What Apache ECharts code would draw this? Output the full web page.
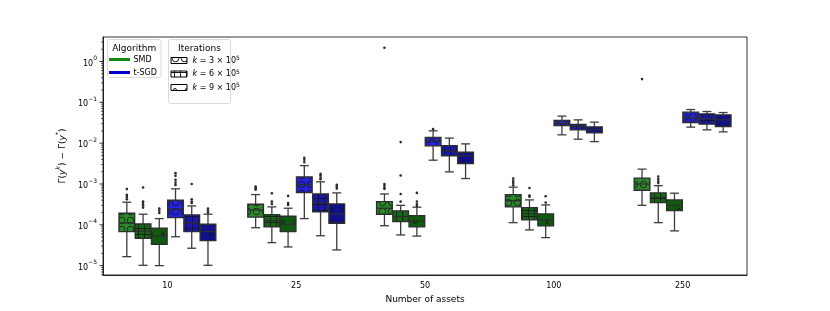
<!DOCTYPE html>
<html><head><meta charset="utf-8">
<script src="https://cdn.jsdelivr.net/npm/echarts@6/dist/echarts.min.js"></script>
<style>html,body{margin:0;padding:0;background:#fff}#c{width:830px;height:311px}</style>
</head><body><div id="c"></div>
<script>
const categories = ['10', '25', '50', '100', '250'];
// each entry: [lower whisker, Q1, median, Q3, upper whisker], one per category
const smd3 = [[1.66e-5, 6.8e-5, 1.11e-4, 1.92e-4, 3.58e-4], [8.5e-5, 1.54e-4, 2.32e-4, 3.2e-4, 5.5e-4], [9.5e-5, 1.82e-4, 2.55e-4, 3.7e-4, 5.7e-4], [1.13e-4, 2.75e-4, 3.9e-4, 5.5e-4, 8.35e-4], [3.0e-4, 7.05e-4, 1.0e-3, 1.39e-3, 2.31e-3]];
const smd6 = [[1.02e-5, 4.7e-5, 7.1e-5, 1.05e-4, 1.82e-4], [3.66e-5, 8.9e-5, 1.27e-4, 1.78e-4, 2.75e-4], [5.65e-5, 1.2e-4, 1.59e-4, 2.19e-4, 3.0e-4], [7.5e-5, 1.32e-4, 1.88e-4, 2.64e-4, 4.07e-4], [1.13e-4, 3.5e-4, 4.64e-4, 6.05e-4, 9.1e-4]];
const smd9 = [[1.0e-5, 3.35e-5, 5.3e-5, 8.3e-5, 1.42e-4], [2.87e-5, 6.8e-5, 1.03e-4, 1.62e-4, 2.55e-4], [5.3e-5, 8.9e-5, 1.25e-4, 1.68e-4, 2.7e-4], [4.85e-5, 9.5e-5, 1.32e-4, 1.85e-4, 3.07e-4], [7.1e-5, 2.23e-4, 2.96e-4, 4.07e-4, 5.95e-4]];
const sgd3 = [[5.1e-5, 1.5e-4, 2.4e-4, 4.0e-4, 7.6e-4], [1.42e-4, 6.2e-4, 9.7e-4, 1.49e-3, 2.82e-3], [3.83e-3, 8.6e-3, 1.14e-2, 1.37e-2, 2.0e-2], [1.6e-2, 2.7e-2, 3.06e-2, 3.58e-2, 4.59e-2], [2.47e-2, 3.2e-2, 4.24e-2, 5.75e-2, 6.66e-2]];
const sgd6 = [[2.67e-5, 6.8e-5, 1.13e-4, 1.75e-4, 2.9e-4], [5.4e-5, 2.07e-4, 3.44e-4, 5.7e-4, 1.13e-3], [1.98e-3, 4.9e-3, 6.5e-3, 8.7e-3, 1.33e-2], [1.25e-2, 2.12e-2, 2.55e-2, 2.86e-2, 3.72e-2], [2.12e-2, 2.92e-2, 3.94e-2, 5.2e-2, 5.95e-2]];
const sgd9 = [[1.02e-5, 4.1e-5, 6.8e-5, 1.03e-4, 1.82e-4], [2.43e-5, 1.09e-4, 1.85e-4, 3.25e-4, 6.05e-4], [1.36e-3, 3.16e-3, 4.9e-3, 6.0e-3, 9.6e-3], [1.09e-2, 1.79e-2, 2.15e-2, 2.51e-2, 3.27e-2], [1.89e-2, 2.55e-2, 3.72e-2, 4.94e-2, 5.62e-2]];
// outliers: [category index, value]
const smd3Out = [[0, 7.5e-4], [0, 5.4e-4], [0, 4.8e-4], [0, 4.2e-4], [1, 8.6e-4], [1, 7.9e-4], [1, 7.2e-4], [2, 1.0e-3], [2, 9.0e-4], [2, 8.0e-4], [2, 7.6e-4], [2, 2.17], [3, 1.36e-3], [3, 1.19e-3], [3, 1.06e-3], [3, 9.35e-4], [4, 0.37]];
const smd6Out = [[0, 8.2e-4], [0, 3.7e-4], [0, 3.4e-4], [0, 3.0e-4], [0, 2.64e-4], [1, 5.95e-4], [1, 3.7e-4], [1, 3.25e-4], [2, 1.06e-2], [2, 1.61e-3], [2, 5.7e-4], [2, 3.7e-4], [3, 8.0e-4], [3, 5.2e-4], [3, 4.9e-4], [4, 1.52e-3], [4, 1.33e-3], [4, 1.17e-3], [4, 1.05e-3]];
const smd9Out = [[0, 2.5e-4], [0, 2.23e-4], [0, 1.96e-4], [1, 5.1e-4], [1, 3.4e-4], [1, 3.07e-4], [2, 6.05e-4], [2, 3.7e-4], [2, 3.2e-4], [2, 2.9e-4], [3, 5.0e-4], [3, 3.5e-4]];
const sgd3Out = [[0, 1.84e-3], [0, 1.58e-3], [0, 1.26e-3], [0, 1.08e-3], [0, 9.5e-4], [1, 4.4e-3], [1, 3.9e-3], [1, 3.42e-3], [2, 2.2e-2]];
const sgd6Out = [[0, 1.0e-3], [0, 4.2e-4], [0, 3.7e-4], [0, 3.4e-4], [1, 1.77e-3], [1, 1.61e-3], [1, 1.43e-3], [1, 1.31e-3]];
const sgd9Out = [[0, 2.5e-4], [0, 2.23e-4], [0, 1.99e-4], [1, 9.5e-4], [1, 8.6e-4], [1, 7.7e-4]];
const yMin = 5.9e-6, yMax = 3.98;
const yTickExps = [-5, -4, -3, -2, -1, 0];

const FONT = '"DejaVu Sans", sans-serif';
const EDGE = '#2e2e2e';
const WHISK = '#3c3c3c';

function makePattern(kind, base, hatch) {
  const s = kind === 'o' ? 9 : (kind === '+' ? 6 : 12);
  const c = document.createElement('canvas');
  c.width = s; c.height = s;
  const g = c.getContext('2d');
  g.fillStyle = base; g.fillRect(0, 0, s, s);
  g.strokeStyle = hatch; g.lineWidth = 0.9;
  if (kind === 'o') {
    g.beginPath(); g.arc(4.5, 4.5, 3.3, 0, Math.PI * 2); g.stroke();
  } else if (kind === '+') {
    g.beginPath(); g.moveTo(0.5, 0); g.lineTo(0.5, s); g.moveTo(0, 0.5); g.lineTo(s, 0.5); g.stroke();
  } else {
    g.beginPath(); g.arc(7, 6, 1.5, 0, Math.PI * 2); g.stroke();
  }
  return { image: c, repeat: 'repeat' };
}

const groups = [
  { box: smd3, out: smd3Out, color: '#2b882b', kind: 'o' },
  { box: smd6, out: smd6Out, color: '#166616', kind: '+' },
  { box: smd9, out: smd9Out, color: '#0e5a0e', kind: '.' },
  { box: sgd3, out: sgd3Out, color: '#2323dc', kind: 'o' },
  { box: sgd6, out: sgd6Out, color: '#1818aa', kind: '+' },
  { box: sgd9, out: sgd9Out, color: '#10108a', kind: '.' }
];
const SLOT = 0.126; // fraction of category band per box

function slotX(params, api, cat, j) {
  const band = params.coordSys.width / categories.length;
  return api.coord([cat, 1])[0] + (j - 2.5) * band * SLOT;
}

const series = [];
groups.forEach((gr, j) => {
  const fill = makePattern(gr.kind, gr.color, 'rgba(20,20,20,0.85)');
  series.push({
    type: 'custom', name: 'box' + j, z: 3,
    data: gr.box.map((b, i) => [i, b[0], b[1], b[2], b[3], b[4]]),
    encode: { x: 0, y: [1, 2, 3, 4, 5] },
    renderItem: function (params, api) {
      const cat = api.value(0);
      const band = params.coordSys.width / categories.length;
      const slot = band * SLOT;
      const cx = slotX(params, api, cat, j);
      const yLo = api.coord([cat, api.value(1)])[1];
      const yQ1 = api.coord([cat, api.value(2)])[1];
      const yMed = api.coord([cat, api.value(3)])[1];
      const yQ3 = api.coord([cat, api.value(4)])[1];
      const yHi = api.coord([cat, api.value(5)])[1];
      const w = slot - 0.6, cap = slot * 0.55;
      const ls = { stroke: WHISK, lineWidth: 1.3 };
      return { type: 'group', children: [
        { type: 'line', shape: { x1: cx, y1: yQ3, x2: cx, y2: yHi }, style: ls },
        { type: 'line', shape: { x1: cx, y1: yQ1, x2: cx, y2: yLo }, style: ls },
        { type: 'line', shape: { x1: cx - cap / 2, y1: yHi, x2: cx + cap / 2, y2: yHi }, style: ls },
        { type: 'line', shape: { x1: cx - cap / 2, y1: yLo, x2: cx + cap / 2, y2: yLo }, style: ls },
        { type: 'rect', shape: { x: cx - w / 2, y: yQ3, width: w, height: yQ1 - yQ3 }, style: { fill: fill, stroke: EDGE, lineWidth: 1.4 } },
        { type: 'line', shape: { x1: cx - w / 2, y1: yMed, x2: cx + w / 2, y2: yMed }, style: { stroke: EDGE, lineWidth: 1.3 } }
      ] };
    }
  });
  series.push({
    type: 'custom', name: 'out' + j, z: 4,
    data: gr.out,
    encode: { x: 0, y: 1 },
    renderItem: function (params, api) {
      const cat = api.value(0);
      const cx = slotX(params, api, cat, j);
      const y = api.coord([cat, api.value(1)])[1];
      return { type: 'circle', shape: { cx: cx, cy: y, r: 1.3 }, style: { fill: '#2a2a2a' } };
    }
  });
});

// y-axis major/minor tick marks (log decades and 2..9 subdivisions)
const yTickVals = [];
for (let e = -6; e <= 0; e++) for (let m = 1; m <= 9; m++) {
  const v = m * Math.pow(10, e);
  if (v >= yMin && v <= yMax) yTickVals.push([0, v, m === 1 ? 1 : 0]);
}
series.push({
  type: 'custom', name: 'yticks', silent: true, z: 5,
  data: yTickVals, encode: { x: 0, y: 1 },
  renderItem: function (params, api) {
    const y = api.coord([0, api.value(1)])[1];
    const x0 = params.coordSys.x;
    const len = api.value(2) ? 3.5 : 2;
    return { type: 'line', shape: { x1: x0 - len, y1: y, x2: x0, y2: y }, style: { stroke: '#000', lineWidth: api.value(2) ? 0.8 : 0.6 } };
  }
});

const chart = echarts.init(document.getElementById('c'), null, { renderer: 'canvas' });

function legendGraphics() {
  const els = [];
  const T = (text, x, y, size, align, rich) => ({
    type: 'text', z: 100, style: { text: text, x: x, y: y, fill: '#000', font: size + 'px ' + FONT, align: align || 'left', verticalAlign: 'middle', rich: rich }
  });
  // Algorithm box
  els.push({ type: 'rect', z: 99, shape: { x: 107.5, y: 39.5, width: 53.5, height: 38, r: 2 }, style: { fill: 'rgba(255,255,255,0.85)', stroke: '#d0d0d0', lineWidth: 0.8 } });
  els.push(T('Algorithm', 134.2, 49, 9, 'center'));
  els.push({ type: 'line', z: 100, shape: { x1: 109, y1: 59.5, x2: 130, y2: 59.5 }, style: { stroke: '#108a10', lineWidth: 3 } });
  els.push(T('SMD', 133.5, 59.5, 8));
  els.push({ type: 'line', z: 100, shape: { x1: 109, y1: 72.5, x2: 130, y2: 72.5 }, style: { stroke: '#0000cc', lineWidth: 3 } });
  els.push(T('t-SGD', 133.5, 72.5, 8));
  // Iterations box
  els.push({ type: 'rect', z: 99, shape: { x: 168.5, y: 39.5, width: 62, height: 64, r: 2 }, style: { fill: 'rgba(255,255,255,0.85)', stroke: '#d0d0d0', lineWidth: 0.8 } });
  els.push(T('Iterations', 199.5, 49, 9, 'center'));
  const kinds = ['o', '+', '.'], ex = ['3', '6', '9'], ys = [60.5, 74, 87.5];
  const rich = { i: { fontStyle: 'italic', fontSize: 8, fontFamily: FONT }, n: { fontSize: 8, fontFamily: FONT }, s: { fontSize: 6, fontFamily: FONT, verticalAlign: 'top', padding: [0, 0, 4, 0] } };
  kinds.forEach((k, idx) => {
    els.push({ type: 'rect', z: 100, shape: { x: 171, y: ys[idx] - 3, width: 16, height: 6 }, style: { fill: makePattern(k, '#ffffff', '#000'), stroke: '#000', lineWidth: 1 } });
    els.push(T('{i|k}{n| = ' + ex[idx] + ' × 10}{s|5}', 192.5, ys[idx], 8, 'left', rich));
  });
  return els;
}

const supRich = {
  b: { fontSize: 8, fontFamily: FONT, color: '#000', lineHeight: 12, verticalAlign: 'bottom' },
  s: { fontSize: 6, fontFamily: FONT, color: '#000', lineHeight: 6, verticalAlign: 'top' }
};

chart.setOption({
  animation: false,
  backgroundColor: '#fff',
  grid: { left: 103, right: 83, top: 37, bottom: 36, show: true, borderColor: '#000', borderWidth: 0.8, backgroundColor: 'transparent' },
  xAxis: {
    type: 'category', data: categories, boundaryGap: true,
    axisLine: { lineStyle: { color: '#000', width: 0.8 } },
    axisTick: { alignWithLabel: true, length: 3.5, lineStyle: { color: '#000', width: 0.8 } },
    axisLabel: { fontSize: 8, fontFamily: FONT, color: '#000', margin: 7 },
    name: 'Number of assets', nameLocation: 'middle', nameGap: 19,
    nameTextStyle: { fontSize: 9, fontFamily: FONT, color: '#000' },
    splitLine: { show: false }
  },
  yAxis: {
    type: 'log', logBase: 10, min: yMin, max: yMax,
    axisLine: { show: true, lineStyle: { color: '#000', width: 0.8 } },
    axisTick: { show: false },
    splitLine: { show: false },
    minorTick: { show: false },
    axisLabel: {
      showMinLabel: false, showMaxLabel: false, margin: 6,
      formatter: function (v) {
        const e = Math.log10(v), r = Math.round(e);
        if (Math.abs(e - r) > 1e-6 || yTickExps.indexOf(r) < 0) return '';
        return '{b|10}{s|' + (r < 0 ? '−' + (-r) : r) + '}';
      },
      rich: supRich
    },
    name: '{n|Γ(}{i|y}{s|k}{n|) − Γ(}{i|y}{s|*}{n|)}', nameLocation: 'middle', nameGap: 34,
    nameTextStyle: {
      fontSize: 9, fontFamily: FONT, color: '#000',
      rich: {
        n: { fontSize: 9, fontFamily: FONT, lineHeight: 12, verticalAlign: 'bottom' },
        i: { fontSize: 9, fontFamily: FONT, fontStyle: 'italic', lineHeight: 12, verticalAlign: 'bottom' },
        s: { fontSize: 6.5, fontFamily: FONT, fontStyle: 'italic', lineHeight: 7, verticalAlign: 'top' }
      }
    }
  },
  graphic: legendGraphics(),
  series: series
});
</script></body></html>
